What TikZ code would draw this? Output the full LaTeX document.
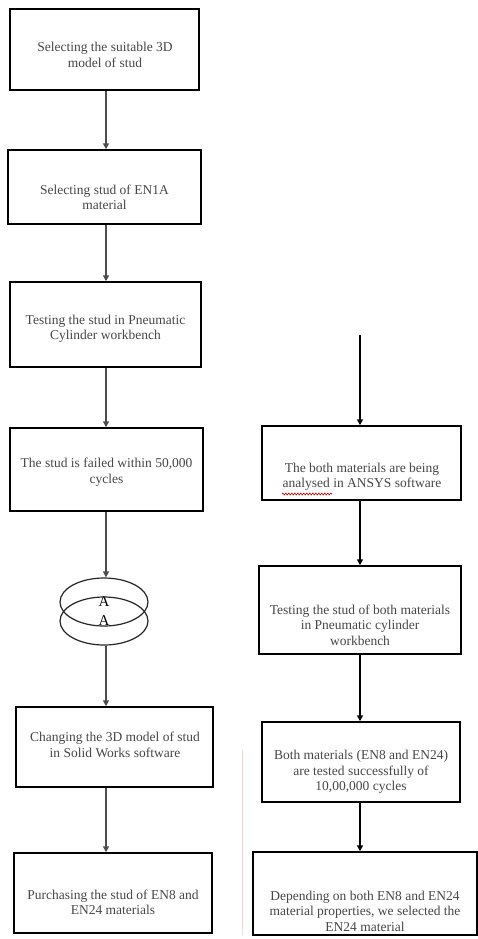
\documentclass[tikz,border=0pt]{standalone}
\usepackage{fontspec}
\setmainfont{Liberation Serif}
\usetikzlibrary{arrows.meta,shapes.geometric,decorations.pathmorphing}
\tikzset{
  box/.style={draw=black, line width=1.5pt, inner sep=0pt, fill=white},
  txt/.style={align=center, font=\fontsize{13.5}{15.5}\selectfont, text=black!72, inner sep=0pt},
  arrL/.style={draw=black!70, line width=1.5pt, -{Triangle[length=6pt,width=6pt]}},
  arrR/.style={draw=black, line width=1.5pt, -{Triangle[length=6pt,width=6pt]}},
  disc/.style={draw=black!85, line width=1.2pt, ellipse, minimum width=88pt, minimum height=48pt, inner sep=0pt, font=\fontsize{15}{15}\selectfont}
}
\begin{document}
\begin{tikzpicture}[x=1pt,y=-1pt]
\useasboundingbox (0,0) rectangle (478,939);
\fill[white] (0,0) rectangle (478,939);
% column guides
\coordinate (lx) at (106,0);
\coordinate (rx) at (360,0);
% faint artifact line
\draw[red!18, line width=0.6pt] (242,750) -- (242,935);
% left boxes
\node[box, minimum width=189pt, minimum height=81pt] (b1) at (104.5,49.5) {};
\node[box, minimum width=193pt, minimum height=74pt] (b2) at (104.5,187) {};
\node[box, minimum width=191pt, minimum height=85pt] (b3) at (105.5,324.5) {};
\node[box, minimum width=193pt, minimum height=83pt] (b4) at (106.5,469.5) {};
\node[box, minimum width=197pt, minimum height=80pt] (b5) at (114.5,747) {};
\node[box, minimum width=198pt, minimum height=80pt] (b6) at (113,893) {};
% right boxes
\node[box, minimum width=199pt, minimum height=74pt] (r1) at (361.5,463) {};
\node[box, minimum width=202pt, minimum height=88pt] (r2) at (360,610) {};
\node[box, minimum width=198pt, minimum height=80pt] (r3) at (361,762) {};
\node[box, minimum width=224pt, minimum height=83pt] (r4) at (365,893.5) {};
% texts
\node[txt] (t1) at (105,55) {Selecting the suitable 3D\\model of stud};
\node[txt] (t2) at (104.5,197.5) {Selecting stud of EN1A\\material};
\node[txt] (t3) at (105.5,329) {Testing the stud in Pneumatic\\Cylinder workbench};
\node[txt] (t4) at (106.5,472) {The stud is failed within 50,000\\cycles};
\node[txt] (t5) at (115,745) {Changing the 3D model of stud\\in Solid Works software};
\node[txt] (t6) at (113,902.5) {Purchasing the stud of EN8 and\\EN24 materials};
\node[txt] (u1) at (362,477) {The both materials are being\\analysed in ANSYS software};
\node[txt] (u2) at (360,625) {Testing the stud of both materials\\in Pneumatic cylinder\\workbench};
\node[txt] (u3) at (361,772) {Both materials (EN8 and EN24)\\are tested successfully of\\10,00,000 cycles};
\node[txt] (u4) at (365,911) {Depending on both EN8 and EN24\\material properties, we selected the\\EN24 material};
% spell-check squiggle
\draw[red!80!black, line width=0.6pt, decorate, decoration={zigzag, segment length=3pt, amplitude=1pt}] (282,494) -- (332,494);
% connector discs
\node[disc] (e1) at (104,602) {A};
\node[disc, fill=none] (e2) at (104,621) {A};
% left arrows
\draw[arrL] (b1.south -| lx) -- (b2.north -| lx);
\draw[arrL] (b2.south -| lx) -- (b3.north -| lx);
\draw[arrL] (b3.south -| lx) -- (b4.north -| lx);
\draw[arrL] (b4.south -| lx) -- (e1.north -| lx);
\draw[arrL] (e2.south -| lx) -- (b5.north -| lx);
\draw[arrL] (b5.south -| lx) -- (b6.north -| lx);
% right arrows
\coordinate (rs) at (360,335);
\draw[arrR] (rs) -- (r1.north -| rx);
\draw[arrR] (r1.south -| rx) -- (r2.north -| rx);
\draw[arrR] (r2.south -| rx) -- (r3.north -| rx);
\draw[arrR] (r3.south -| rx) -- (r4.north -| rx);
\end{tikzpicture}
\end{document}
